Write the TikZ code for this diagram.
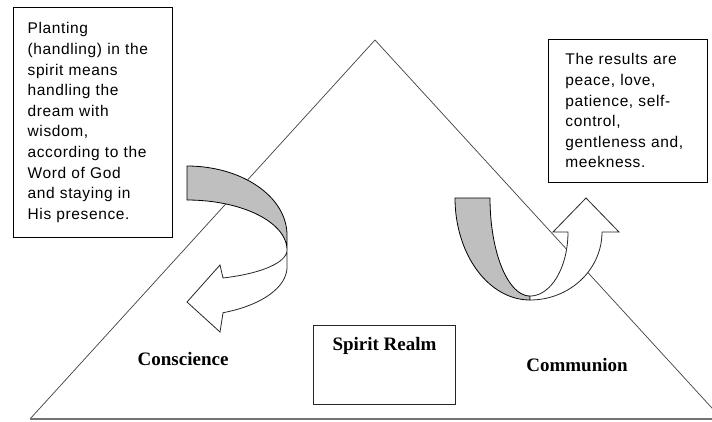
\documentclass[tikz,border=0pt]{standalone}
\usepackage{fontspec}
\newfontfamily\boxfont[LetterSpace=4]{Liberation Sans}
\newfontfamily\labfont{Liberation Serif}
\begin{document}
\begin{tikzpicture}[x=1pt,y=-1pt,
  tri/.style={draw=black!75, line width=0.7pt},
  baseln/.style={draw=black!55, line width=2pt},
  backband/.style={fill=black!25, draw=black, line width=0.8pt, line join=miter},
  frontband/.style={fill=white, draw=black!85, line width=0.8pt, line join=miter},
  textbox/.style={draw=black, fill=white, align=left, anchor=north west, inner ysep=0pt,
    font=\boxfont\fontsize{15.5}{20.6}\selectfont},
  lab/.style={font=\labfont\bfseries\fontsize{19}{22}\selectfont}]
\useasboundingbox (0,0) rectangle (712,421);
\clip (0,0) rectangle (712,421);
% triangle
\coordinate (apex) at (375,40);
\coordinate (lc) at (30,419);
\coordinate (rc) at (722,419);
\draw[tri] (lc) -- (apex) -- (rc);
\draw[baseln] (lc) -- (rc);
% left curved arrow
\filldraw[backband] plot[domain=90:0,samples=40] ({187+100*cos(\x)},{235-69*sin(\x)})
  -- (287,250) -- plot[domain=0:90,samples=40] ({187+100*cos(\x)},{250-50*sin(\x)}) -- cycle;
\filldraw[frontband] (287,250) -- plot[domain=0:68.9,samples=30] ({187+100*cos(\x)},{250+30*sin(\x)})
  -- (220,265) -- (187,302) -- (220,332) -- (223,313)
  -- plot[domain=68.9:0,samples=30] ({187+100*cos(\x)},{267+49*sin(\x)}) -- cycle;
% right curved arrow
\filldraw[backband] plot[domain=0:90,samples=40] ({530-75*cos(\x)},{198+102*sin(\x)})
  -- (530,296) -- plot[domain=90:0,samples=40] ({530-40*cos(\x)},{198+98*sin(\x)}) -- cycle;
\filldraw[frontband] plot[domain=90:0,samples=40] ({530+72*cos(\x)},{232+68*sin(\x)})
  -- (619,232) -- (586,198) -- (553,232) -- (568,232)
  -- plot[domain=0:90,samples=40] ({530+38*cos(\x)},{232+64*sin(\x)}) -- cycle;
% text boxes
\node[textbox, line width=1.3pt, minimum width=159pt, minimum height=230pt, text width=131pt, inner xsep=14pt]
  (plant) at (13,7) {Planting\\(handling) in the\\spirit means\\handling the\\dream with\\wisdom,\\according to the\\Word of God\\and staying in\\His presence.};
\node[textbox, line width=0.9pt, minimum width=159pt, minimum height=143pt, text width=125pt, inner xsep=17pt]
  (results) at (548,39) {The results are\\peace, love,\\patience, self-\\control,\\gentleness and,\\meekness.};
\node[lab, draw=black!85, fill=white, line width=1pt, anchor=north west, minimum width=142pt,
  inner sep=0pt, text height=25pt, text depth=54pt] (realm) at (313,325) {Spirit Realm};
\node[lab, anchor=base east] (consc) at (232,365) {Conscience};
\node[lab, anchor=base] (commun) at (577,371) {Communion};
\end{tikzpicture}
\end{document}
